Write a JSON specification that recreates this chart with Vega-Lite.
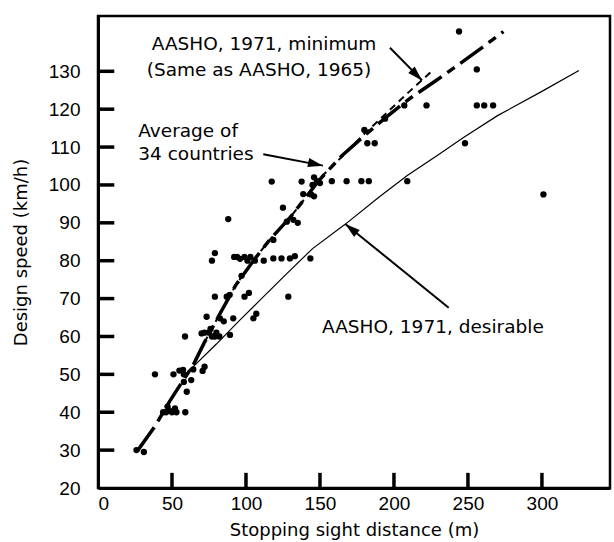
{
  "$schema": "https://vega.github.io/schema/vega-lite/v6.json",
  "autosize": {"type": "none"},
  "width": 512,
  "height": 472,
  "padding": {"left": 98, "top": 16, "right": 4, "bottom": 54},
  "background": "white",
  "config": {
    "view": {"stroke": "black", "strokeWidth": 2.5},
    "font": "DejaVu Sans"
  },
  "datasets": {
    "xticks": [{"v": 50}, {"v": 100}, {"v": 150}, {"v": 200}, {"v": 250}, {"v": 300}],
    "yticks": [{"v": 30}, {"v": 40}, {"v": 50}, {"v": 60}, {"v": 70}, {"v": 80}, {"v": 90}, {"v": 100}, {"v": 110}, {"v": 120}, {"v": 130}],
    "pts": [
      {"x": 26, "y": 30}, {"x": 31, "y": 29.5},
      {"x": 44, "y": 40}, {"x": 46, "y": 40}, {"x": 48, "y": 40.5}, {"x": 50, "y": 40}, {"x": 52, "y": 41}, {"x": 53, "y": 40}, {"x": 47, "y": 41.5}, {"x": 59, "y": 40},
      {"x": 60, "y": 45.4},
      {"x": 38.5, "y": 50}, {"x": 51, "y": 50}, {"x": 55, "y": 51}, {"x": 57.5, "y": 51.2}, {"x": 58, "y": 50}, {"x": 64.4, "y": 51.3}, {"x": 70.7, "y": 50.9}, {"x": 72, "y": 52}, {"x": 63, "y": 48.5}, {"x": 58, "y": 48},
      {"x": 58.8, "y": 60}, {"x": 70, "y": 60.8}, {"x": 72, "y": 61}, {"x": 75, "y": 61}, {"x": 77, "y": 60}, {"x": 79, "y": 60}, {"x": 80, "y": 61}, {"x": 82, "y": 60}, {"x": 89.2, "y": 60.4}, {"x": 76, "y": 62},
      {"x": 73.4, "y": 65.2}, {"x": 82.4, "y": 64.8}, {"x": 85, "y": 64}, {"x": 91.4, "y": 64.8}, {"x": 105, "y": 64.8}, {"x": 107, "y": 66},
      {"x": 79, "y": 70.5}, {"x": 87, "y": 70.5}, {"x": 89, "y": 71}, {"x": 99, "y": 70.5}, {"x": 102, "y": 71.5}, {"x": 128.6, "y": 70.5},
      {"x": 97, "y": 76},
      {"x": 77, "y": 80}, {"x": 79, "y": 82}, {"x": 92, "y": 81}, {"x": 94, "y": 81}, {"x": 96, "y": 80.5}, {"x": 99, "y": 81}, {"x": 101, "y": 80}, {"x": 103, "y": 81}, {"x": 106, "y": 80}, {"x": 112, "y": 80}, {"x": 118.5, "y": 80.6}, {"x": 124, "y": 80.6}, {"x": 129.7, "y": 80.6}, {"x": 133, "y": 81.2}, {"x": 143.5, "y": 80.6},
      {"x": 118.5, "y": 85.5},
      {"x": 88, "y": 91}, {"x": 127.6, "y": 90.3}, {"x": 132, "y": 90.8}, {"x": 135, "y": 90}, {"x": 125, "y": 94},
      {"x": 138.7, "y": 97.6}, {"x": 144, "y": 97.5}, {"x": 146, "y": 97},
      {"x": 117.4, "y": 100.9}, {"x": 137.6, "y": 100.9}, {"x": 145, "y": 100}, {"x": 146, "y": 102}, {"x": 148, "y": 101}, {"x": 150, "y": 100.5}, {"x": 158, "y": 101}, {"x": 168, "y": 101}, {"x": 178, "y": 101}, {"x": 183, "y": 101}, {"x": 209, "y": 101},
      {"x": 182, "y": 111}, {"x": 187, "y": 111}, {"x": 248, "y": 111},
      {"x": 180, "y": 114.5}, {"x": 194, "y": 117.5},
      {"x": 207, "y": 121}, {"x": 222, "y": 121}, {"x": 256, "y": 121}, {"x": 261, "y": 121}, {"x": 267, "y": 121},
      {"x": 256, "y": 130.5}, {"x": 244, "y": 140.5}, {"x": 301, "y": 97.5}
    ],
    "lines": [
      {"s": "avg", "x": 27, "y": 30}, {"s": "avg", "x": 38, "y": 36}, {"s": "avg", "x": 48.6, "y": 43}, {"s": "avg", "x": 56, "y": 47.5}, {"s": "avg", "x": 64.4, "y": 52.5}, {"s": "avg", "x": 72, "y": 58.5}, {"s": "avg", "x": 81, "y": 65}, {"s": "avg", "x": 93, "y": 73.5}, {"s": "avg", "x": 105, "y": 80}, {"s": "avg", "x": 116, "y": 85.5}, {"s": "avg", "x": 130, "y": 91.5}, {"s": "avg", "x": 140, "y": 96.5}, {"s": "avg", "x": 150, "y": 101.5}, {"s": "avg", "x": 165, "y": 107.8}, {"s": "avg", "x": 180, "y": 113}, {"s": "avg", "x": 195, "y": 118}, {"s": "avg", "x": 211, "y": 122.9}, {"s": "avg", "x": 229, "y": 127.7}, {"s": "avg", "x": 237, "y": 129.9}, {"s": "avg", "x": 260, "y": 136.4}, {"s": "avg", "x": 274, "y": 140.5},
      {"s": "min", "x": 60, "y": 50}, {"s": "min", "x": 64.4, "y": 52.5}, {"s": "min", "x": 72, "y": 58.5}, {"s": "min", "x": 81, "y": 65}, {"s": "min", "x": 93, "y": 73.5}, {"s": "min", "x": 105, "y": 80}, {"s": "min", "x": 116, "y": 85.5}, {"s": "min", "x": 130, "y": 91.5}, {"s": "min", "x": 140, "y": 96.5}, {"s": "min", "x": 150, "y": 101.8}, {"s": "min", "x": 165, "y": 107.5}, {"s": "min", "x": 180, "y": 113.5}, {"s": "min", "x": 195, "y": 119}, {"s": "min", "x": 210, "y": 124.5}, {"s": "min", "x": 226.6, "y": 130.4},
      {"s": "des", "x": 63, "y": 51.5}, {"s": "des", "x": 80, "y": 58}, {"s": "des", "x": 95, "y": 64}, {"s": "des", "x": 110, "y": 69.8}, {"s": "des", "x": 125, "y": 75.6}, {"s": "des", "x": 145, "y": 83.2}, {"s": "des", "x": 167, "y": 89.6}, {"s": "des", "x": 190, "y": 96.8}, {"s": "des", "x": 209, "y": 102.5}, {"s": "des", "x": 230, "y": 108}, {"s": "des", "x": 247, "y": 112.5}, {"s": "des", "x": 270, "y": 118.3}, {"s": "des", "x": 300, "y": 124.7}, {"s": "des", "x": 325, "y": 130.2}
    ],
    "labels": [
      {"x": 36.3, "y": 135.5, "t": "AASHO, 1971, minimum"},
      {"x": 32.9, "y": 128.8, "t": "(Same as AASHO, 1965)"},
      {"x": 27.2, "y": 112.6, "t": "Average of"},
      {"x": 27.2, "y": 106.6, "t": "34 countries"},
      {"x": 151.4, "y": 61, "t": "AASHO, 1971, desirable"}
    ],
    "arrows": [
      {"a": "min", "x": 197.3, "y": 136.2, "x2": 219, "y2": 127.6},
      {"a": "avg", "x": 111.7, "y": 108.1, "x2": 152, "y2": 105.1},
      {"a": "des", "x": 237, "y": 67.6, "x2": 167.1, "y2": 89.7}
    ]
  },
  "layer": [
    {
      "data": {"name": "lines"},
      "transform": [{"filter": "datum.s === 'des'"}],
      "mark": {"type": "line", "color": "black", "strokeWidth": 1.2},
      "encoding": {
        "x": {"field": "x", "type": "quantitative", "scale": {"domain": [0, 346], "nice": false, "zero": false},
          "axis": {"title": "Stopping sight distance (m)", "values": [0, 50, 100, 150, 200, 250, 300], "grid": false,
            "ticks": false, "domainColor": "black", "domainWidth": 3,
            "labelPadding": 6, "labelFont": "Liberation Sans", "labelFontSize": 19, "labelColor": "black",
            "titleFont": "DejaVu Sans", "titleFontSize": 18, "titleFontWeight": "normal", "titleColor": "black", "titlePadding": 8}},
        "y": {"field": "y", "type": "quantitative", "scale": {"domain": [20, 144.6], "nice": false, "zero": false},
          "axis": {"title": "Design speed (km/h)", "values": [20, 30, 40, 50, 60, 70, 80, 90, 100, 110, 120, 130], "grid": false,
            "ticks": false, "domainColor": "black", "domainWidth": 3,
            "labelPadding": 18, "labelFont": "Liberation Sans", "labelFontSize": 19, "labelColor": "black",
            "titleFont": "DejaVu Sans", "titleFontSize": 18, "titleFontWeight": "normal", "titleColor": "black", "titlePadding": 18}},
        "order": {"field": "x", "type": "quantitative"}
      }
    },
    {
      "data": {"name": "xticks"},
      "mark": {"type": "rule", "color": "black", "strokeWidth": 3.5},
      "encoding": {"x": {"field": "v", "type": "quantitative"}, "y": {"datum": 20, "type": "quantitative"}, "y2": {"datum": 24}}
    },
    {
      "data": {"name": "yticks"},
      "mark": {"type": "rule", "color": "black", "strokeWidth": 3.5},
      "encoding": {"y": {"field": "v", "type": "quantitative"}, "x": {"datum": 0, "type": "quantitative"}, "x2": {"datum": 11}}
    },
    {
      "data": {"name": "lines"},
      "transform": [{"filter": "datum.s === 'min'"}],
      "mark": {"type": "line", "color": "black", "strokeWidth": 2, "strokeDash": [7, 5]},
      "encoding": {"x": {"field": "x", "type": "quantitative"}, "y": {"field": "y", "type": "quantitative"}, "order": {"field": "x", "type": "quantitative"}}
    },
    {
      "data": {"name": "lines"},
      "transform": [{"filter": "datum.s === 'avg'"}],
      "mark": {"type": "line", "color": "black", "strokeWidth": 3.5, "strokeDash": [28, 7, 9, 7]},
      "encoding": {"x": {"field": "x", "type": "quantitative"}, "y": {"field": "y", "type": "quantitative"}, "order": {"field": "x", "type": "quantitative"}}
    },
    {
      "data": {"name": "pts"},
      "mark": {"type": "circle", "color": "black", "opacity": 1, "size": 40},
      "encoding": {"x": {"field": "x", "type": "quantitative"}, "y": {"field": "y", "type": "quantitative"}}
    },
    {
      "data": {"name": "labels"},
      "mark": {"type": "text", "align": "left", "baseline": "alphabetic", "font": "DejaVu Sans", "fontSize": 18.5, "color": "black"},
      "encoding": {"x": {"field": "x", "type": "quantitative"}, "y": {"field": "y", "type": "quantitative"}, "text": {"field": "t"}}
    },
    {
      "data": {"name": "arrows"},
      "mark": {"type": "rule", "color": "black", "strokeWidth": 2},
      "encoding": {"x": {"field": "x", "type": "quantitative"}, "y": {"field": "y", "type": "quantitative"}, "x2": {"field": "x2"}, "y2": {"field": "y2"}}
    },
    {
      "data": {"name": "arrows"},
      "transform": [{"filter": "datum.a === 'min'"}],
      "mark": {"type": "point", "shape": "M0,0L0.3,1L-0.3,1Z", "filled": true, "color": "black", "opacity": 1, "size": 900, "angle": 135},
      "encoding": {"x": {"field": "x2", "type": "quantitative"}, "y": {"field": "y2", "type": "quantitative"}}
    },
    {
      "data": {"name": "arrows"},
      "transform": [{"filter": "datum.a === 'avg'"}],
      "mark": {"type": "point", "shape": "M0,0L0.3,1L-0.3,1Z", "filled": true, "color": "black", "opacity": 1, "size": 900, "angle": 102},
      "encoding": {"x": {"field": "x2", "type": "quantitative"}, "y": {"field": "y2", "type": "quantitative"}}
    },
    {
      "data": {"name": "arrows"},
      "transform": [{"filter": "datum.a === 'des'"}],
      "mark": {"type": "point", "shape": "M0,0L0.3,1L-0.3,1Z", "filled": true, "color": "black", "opacity": 1, "size": 900, "angle": 309},
      "encoding": {"x": {"field": "x2", "type": "quantitative"}, "y": {"field": "y2", "type": "quantitative"}}
    }
  ]
}
